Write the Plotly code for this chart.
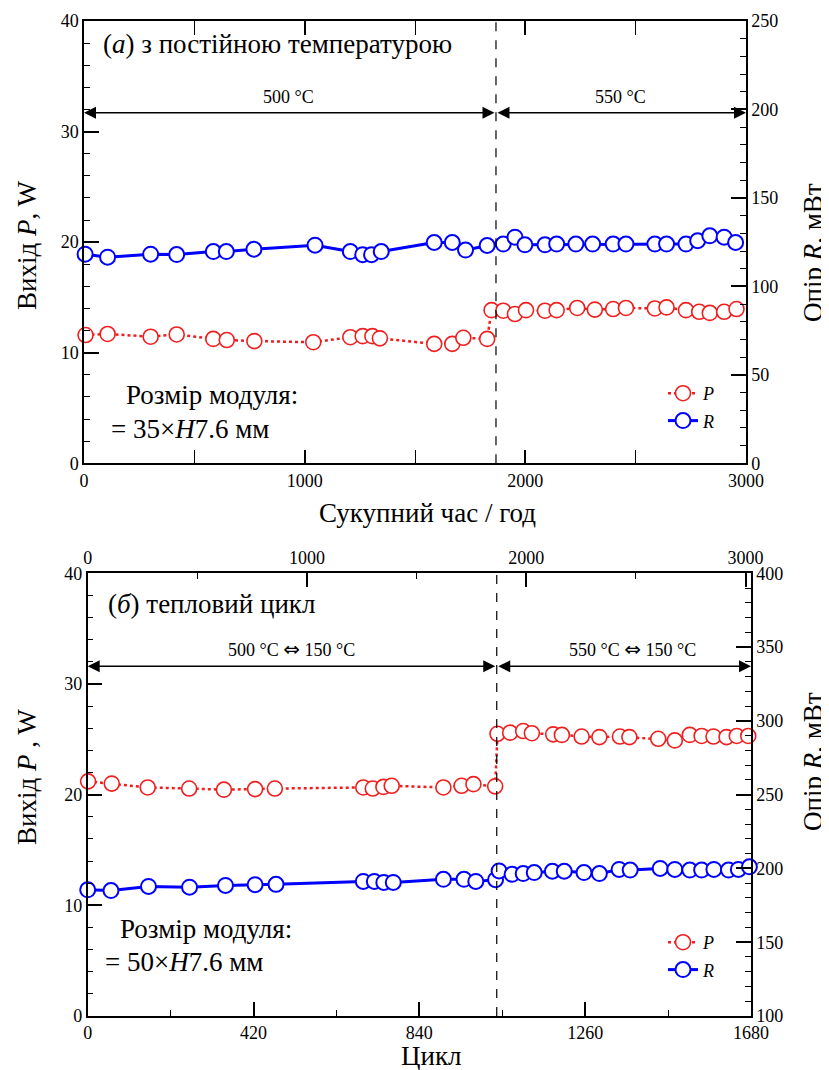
import plotly.graph_objects as go

# ---------------- data ----------------
# (a) constant temperature: cumulative time (h)
top_hours_P = [7, 107, 302, 420, 586, 647, 772, 1039, 1207, 1263, 1307, 1341, 1587, 1669, 1719, 1827,
               1847, 1900, 1953, 2003, 2089, 2142, 2235, 2315, 2398, 2456, 2587, 2640, 2728, 2788, 2836, 2901, 2957]
top_P = [11.6, 11.7, 11.45, 11.65, 11.25, 11.15, 11.05, 10.95, 11.4, 11.5, 11.5, 11.3, 10.8, 10.8, 11.35, 11.25,
         13.85, 13.8, 13.5, 13.85, 13.8, 13.85, 14.05, 13.9, 13.95, 14.05, 14.0, 14.1, 13.85, 13.7, 13.6, 13.7, 13.95]
top_hours_R = [5, 107, 302, 420, 586, 645, 770, 1047, 1207, 1263, 1303, 1347, 1587, 1669, 1729, 1827,
               1900, 1953, 1998, 2089, 2142, 2229, 2305, 2398, 2456, 2587, 2640, 2728, 2781, 2836, 2901, 2953]
top_R = [118.2, 116.5, 118.2, 118.0, 119.7, 119.7, 121.0, 123.3, 119.7, 117.9, 117.9, 119.7, 124.8, 124.8, 120.5, 123.1,
         123.9, 127.8, 123.5, 123.5, 123.9, 123.9, 123.9, 123.9, 123.9, 123.9, 123.9, 123.9, 125.8, 128.6, 127.8, 124.8]

# (б) thermal cycling: cycles
bot_cyc_P = [1, 61, 152, 257, 345, 424, 474, 698, 722, 749, 770, 901, 947, 977, 1032,
             1038, 1070, 1103, 1125, 1179, 1201, 1251, 1296, 1348, 1372, 1445, 1487, 1525, 1555, 1585, 1618, 1644, 1673]
bot_P = [21.2, 21.0, 20.65, 20.55, 20.45, 20.5, 20.55, 20.65, 20.55, 20.7, 20.8, 20.65, 20.8, 20.95, 20.75,
         25.5, 25.6, 25.75, 25.55, 25.45, 25.4, 25.25, 25.2, 25.25, 25.2, 25.05, 24.9, 25.4, 25.3, 25.25, 25.2, 25.3, 25.3]
bot_cyc_R = [0, 59, 154, 258, 349, 424, 477, 698, 726, 750, 774, 901, 953, 983, 1033,
             1042, 1075, 1103, 1131, 1177, 1207, 1257, 1296, 1346, 1374, 1450, 1487, 1525, 1555, 1586, 1623, 1648, 1676]
bot_R = [185.5, 185.0, 187.8, 187.3, 188.5, 189.0, 189.2, 191.2, 191.2, 190.5, 190.5, 192.6, 192.6, 191.2, 192.4,
         198.3, 196.0, 196.5, 197.2, 198.1, 198.1, 197.2, 196.5, 199.3, 198.9, 200.0, 199.3, 198.9, 198.9, 199.3, 198.9, 199.3, 201.1]

top_split_hours = 1867
bot_split_cycle = 1036
hours_ticks = [0, 1000, 2000, 3000]
hours_minor = [500, 1500, 2500]
cycle_ticks = [0, 420, 840, 1260, 1680]
cycle_minor = [210, 630, 1050, 1470]

# page body has an 8px margin: figure is placed at (8, 8)
OFF = 8
W, H = 821, 1062
SERIF = "Liberation Serif, 'Times New Roman', 'DejaVu Serif', serif"
RED = "rgb(240,30,30)"
BLUE = "rgb(0,0,255)"

def px(x):
    return (x - OFF) / W

def py(y):
    return 1 - (y - OFF) / H

fig = go.Figure()

def add_pair(xp, yp, xr, yr, xa, ya_p, ya_r, leg):
    fig.add_trace(go.Scatter(
        x=xp, y=yp, xaxis=xa, yaxis=ya_p, mode="lines+markers", name="<i>P</i>",
        line=dict(color=RED, width=2.5, dash="dot"),
        marker=dict(symbol="circle", size=15, color="white", line=dict(color=RED, width=1.6)),
        cliponaxis=False, legend=leg, legendgroup=leg + "p"))
    fig.add_trace(go.Scatter(
        x=xr, y=yr, xaxis=xa, yaxis=ya_r, mode="lines+markers", name="<i>R</i>",
        line=dict(color=BLUE, width=3),
        marker=dict(symbol="circle", size=15, color="white", line=dict(color=BLUE, width=2)),
        cliponaxis=False, legend=leg, legendgroup=leg + "r"))

add_pair(top_hours_P, top_P, top_hours_R, top_R, "x", "y", "y2", "legend")
add_pair(bot_cyc_P, bot_P, bot_cyc_R, bot_R, "x3", "y3", "y4", "legend2")
# empty trace so that the secondary (hours) axis of panel (б) is drawn
fig.add_trace(go.Scatter(x=[], y=[], xaxis="x4", yaxis="y3", showlegend=False, hoverinfo="skip"))

tickfont = dict(family=SERIF, size=18, color="black")
base = dict(showline=True, linecolor="black", linewidth=1.5, ticks="inside", tickwidth=1.5,
            tickcolor="black", showgrid=False, zeroline=False, tickfont=tickfont, automargin=False)

def minor(**kw):
    d = dict(ticks="inside", ticklen=6, tickwidth=1.2, tickcolor="black", showgrid=False)
    d.update(kw)
    return d

top_dom_y = [py(463.3), py(21)]
bot_dom_y = [py(1016), py(573.3)]

fig.update_layout(
    width=W, height=H, autosize=False,
    margin=dict(l=0, r=0, t=0, b=0, autoexpand=False),
    paper_bgcolor="white", plot_bgcolor="white",
    showlegend=True,
    xaxis=dict(base, domain=[px(84), px(746)], anchor="y", range=[0, 3000], tickvals=hours_ticks,
               ticklen=14, mirror="allticks", minor=minor(tickvals=hours_minor)),
    yaxis=dict(base, domain=top_dom_y, anchor="x", range=[0, 40], dtick=10, ticklen=15,
               minor=minor(dtick=2)),
    yaxis2=dict(base, overlaying="y", side="right", anchor="x", range=[0, 250], dtick=50, ticklen=15,
                minor=minor(dtick=10)),
    xaxis3=dict(base, domain=[px(87.7), px(751)], anchor="y3", range=[0, 1680], tickvals=cycle_ticks,
                ticklen=14, minor=minor(tickvals=cycle_minor)),
    xaxis4=dict(base, overlaying="x3", side="top", anchor="y3", range=[0, 3025], tickvals=hours_ticks,
                ticklen=14, minor=minor(tickvals=hours_minor)),
    yaxis3=dict(base, domain=bot_dom_y, anchor="x3", range=[0, 40], dtick=10, ticklen=15,
                minor=minor(dtick=2)),
    yaxis4=dict(base, overlaying="y3", side="right", anchor="x3", range=[100, 400], dtick=50, ticklen=15,
                minor=minor(dtick=10)),
    legend=dict(x=px(663), y=py(375), xanchor="left", yanchor="top", bgcolor="rgba(0,0,0,0)",
                font=dict(family=SERIF, size=18, color="black"), tracegroupgap=1, itemwidth=30),
    legend2=dict(x=px(663), y=py(924), xanchor="left", yanchor="top", bgcolor="rgba(0,0,0,0)",
                 font=dict(family=SERIF, size=18, color="black"), tracegroupgap=1, itemwidth=30),
)

# dashed separators
fig.add_shape(type="line", xref="x", yref="y domain", x0=top_split_hours, x1=top_split_hours, y0=0, y1=1,
              line=dict(color="black", width=1.2, dash="dash"))
fig.add_shape(type="line", xref="x3", yref="y3 domain", x0=bot_split_cycle, x1=bot_split_cycle, y0=0, y1=1,
              line=dict(color="black", width=1.2, dash="dash"))

def arrow(x, ax, y, xr, yr):
    fig.add_annotation(x=x, y=y, ax=ax, ay=y, xref=xr, yref=yr, axref=xr, ayref=yr, text="",
                       showarrow=True, arrowside="end+start", arrowhead=2, startarrowhead=2,
                       arrowsize=1.6, startarrowsize=1.6, arrowwidth=1.5, arrowcolor="black")

arrow(0, top_split_hours, 31.7, "x", "y")
arrow(3000, top_split_hours, 31.7, "x", "y")
arrow(0, bot_split_cycle, 31.6, "x3", "y3")
arrow(1680, bot_split_cycle, 31.6, "x3", "y3")

def txt(text, x, y, size, xanchor="center", xref="paper", yref="paper", angle=0):
    fig.add_annotation(text=text, x=x, y=y, xref=xref, yref=yref, xanchor=xanchor, yanchor="middle",
                       showarrow=False, textangle=angle, font=dict(family=SERIF, size=size, color="black"))

IFF = "<span style='font-family:DejaVu Sans;font-size:20px'>⇔</span>"

# range labels
txt("500 °C", 925, 33.15, 18, xref="x", yref="y")
txt("550 °C", 2433, 33.15, 18, xref="x", yref="y")
txt("500 °C " + IFF + " 150 °C", 517, 33.15, 18, xref="x3", yref="y3")
txt("550 °C " + IFF + " 150 °C", 1381, 33.15, 18, xref="x3", yref="y3")

# panel titles and notes
TS = 27
txt("(<i>a</i>) з постійною температурою", px(101), py(44), TS, xanchor="left")
txt("(<i>б</i>) тепловий цикл", px(106), py(604), TS, xanchor="left")
txt("Розмір модуля:", px(124), py(395), TS, xanchor="left")
txt("= 35×<i>H</i>7.6 мм", px(109), py(429), TS, xanchor="left")
txt("Розмір модуля:", px(118), py(929), TS, xanchor="left")
txt("= 50×<i>H</i>7.6 мм", px(103), py(962), TS, xanchor="left")

# axis titles
txt("Вихід <i>P</i>, W", px(27), py(246), TS, angle=-90)
txt("Опір <i>R</i>, мВт", px(813), py(253), TS, angle=-90)
txt("Сукупний час / год", px(427), py(513), TS)
txt("Вихід <i>P</i> , W", px(27), py(777), TS, angle=-90)
txt("Опір <i>R</i>, мВт", px(813), py(762), TS, angle=-90)
txt("Цикл", px(431), py(1055.5), TS)

fig.write_html("out.html")
